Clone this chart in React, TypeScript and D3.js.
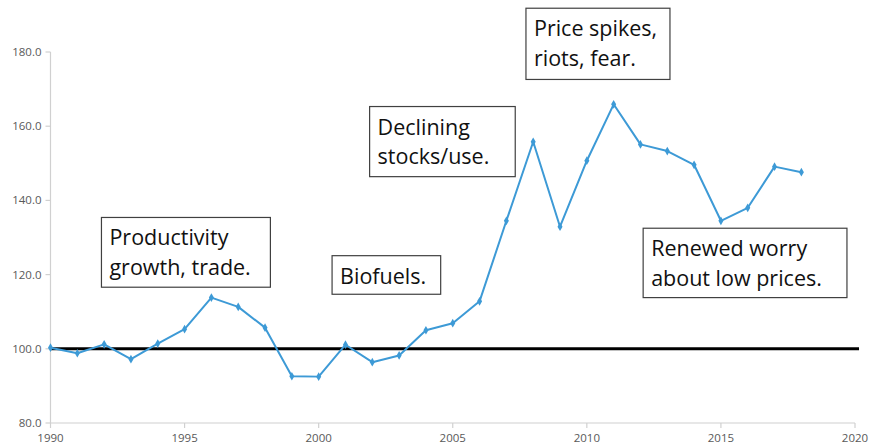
import React from "react";
import * as d3 from "d3";

const years = [1990, 1991, 1992, 1993, 1994, 1995, 1996, 1997, 1998, 1999, 2000, 2001, 2002, 2003, 2004, 2005, 2006, 2007, 2008, 2009, 2010, 2011, 2012, 2013, 2014, 2015, 2016, 2017, 2018];
const priceIndex = [100.3, 98.8, 101.2, 97.2, 101.4, 105.3, 113.8, 111.3, 105.7, 92.6, 92.5, 101.1, 96.4, 98.2, 105.0, 106.9, 112.8, 134.5, 155.8, 132.9, 150.7, 165.9, 155.1, 153.3, 149.6, 134.5, 138.0, 149.1, 147.6];
const xTicks = [1990, 1995, 2000, 2005, 2010, 2015, 2020];
const yTicks = [80, 100, 120, 140, 160, 180];
const baselineValue = 100;

const notes = [
  { lines: ["Productivity", "growth, trade."], x0: 1991.9, x1: 1998.2, y0: 116.6, y1: 135.4 },
  { lines: ["Biofuels."], x0: 2000.5, x1: 2004.55, y0: 114.7, y1: 125.1 },
  { lines: ["Declining", "stocks/use."], x0: 2001.9, x1: 2007.33, y0: 146.4, y1: 165.3 },
  { lines: ["Price spikes,", "riots, fear."], x0: 2007.73, x1: 2013.1, y0: 172.6, y1: 191.8 },
  { lines: ["Renewed worry", "about low prices."], x0: 2012.1, x1: 2019.7, y0: 113.8, y1: 132.5 },
];

const W = 871;
const H = 446;

export default function App() {
  const x = d3.scaleLinear().domain([1990, 2020]).range([50.5, 855]);
  const y = d3.scaleLinear().domain([80, 180]).range([423, 52]);
  const line = d3
    .line<number>()
    .x((_, i) => x(years[i]))
    .y((d) => y(d));
  const diamond = d3.symbol().type(d3.symbolDiamond).size(22)() as string;
  const axisColor = "#d0d0d0";
  const labelColor = "#595959";
  const font = "'Open Sans', sans-serif";
  const noteSize = 21.5;

  return (
    <svg
      width={W}
      height={H}
      style={{ position: "absolute", left: 0, top: 0, background: "#fff" }}
    >
      {/* y axis */}
      <line x1={x(1990)} x2={x(1990)} y1={y(180)} y2={y(80)} stroke={axisColor} strokeWidth={1.2} />
      {yTicks.map((t) => (
        <g key={"y" + t}>
          <line x1={x(1990) - 5} x2={x(1990)} y1={y(t)} y2={y(t)} stroke={axisColor} strokeWidth={1.2} />
          <text
            x={x(1990) - 9}
            y={y(t)}
            dy="0.35em"
            textAnchor="end"
            fontSize={11.5}
            fontFamily={font}
            fill={labelColor}
          >
            {d3.format(".1f")(t)}
          </text>
        </g>
      ))}
      {/* x axis */}
      <line x1={x(1990)} x2={x(2020)} y1={y(80)} y2={y(80)} stroke={axisColor} strokeWidth={1.2} />
      {xTicks.map((t) => (
        <g key={"x" + t}>
          <line x1={x(t)} x2={x(t)} y1={y(80)} y2={y(80) + 5} stroke={axisColor} strokeWidth={1.2} />
          <text
            x={x(t)}
            y={y(80) + 19}
            textAnchor="middle"
            fontSize={11.5}
            fontFamily={font}
            fill={labelColor}
          >
            {t}
          </text>
        </g>
      ))}
      {/* baseline at 100 */}
      <line x1={x(1990)} x2={x(2020.15)} y1={y(baselineValue)} y2={y(baselineValue)} stroke="#000" strokeWidth={3} />
      {/* series */}
      <path d={line(priceIndex) as string} fill="none" stroke="#3d9ad6" strokeWidth={2} strokeLinejoin="round" />
      {priceIndex.map((v, i) => (
        <path key={"m" + i} d={diamond} transform={`translate(${x(years[i])},${y(v)})`} fill="#3d9ad6" />
      ))}
      {/* annotations */}
      {notes.map((n, k) => {
        const bx = x(n.x0);
        const by = y(n.y1);
        const bw = x(n.x1) - x(n.x0);
        const bh = y(n.y0) - y(n.y1);
        return (
          <g key={"n" + k}>
            <rect x={bx} y={by} width={bw} height={bh} fill="#fff" stroke="#404040" strokeWidth={1.2} />
            {n.lines.map((l, j) => (
              <text
                key={j}
                x={bx + 8}
                y={by + 28 + j * 29.5}
                fontSize={noteSize}
                fontFamily={font}
                fill="#111"
              >
                {l}
              </text>
            ))}
          </g>
        );
      })}
    </svg>
  );
}
